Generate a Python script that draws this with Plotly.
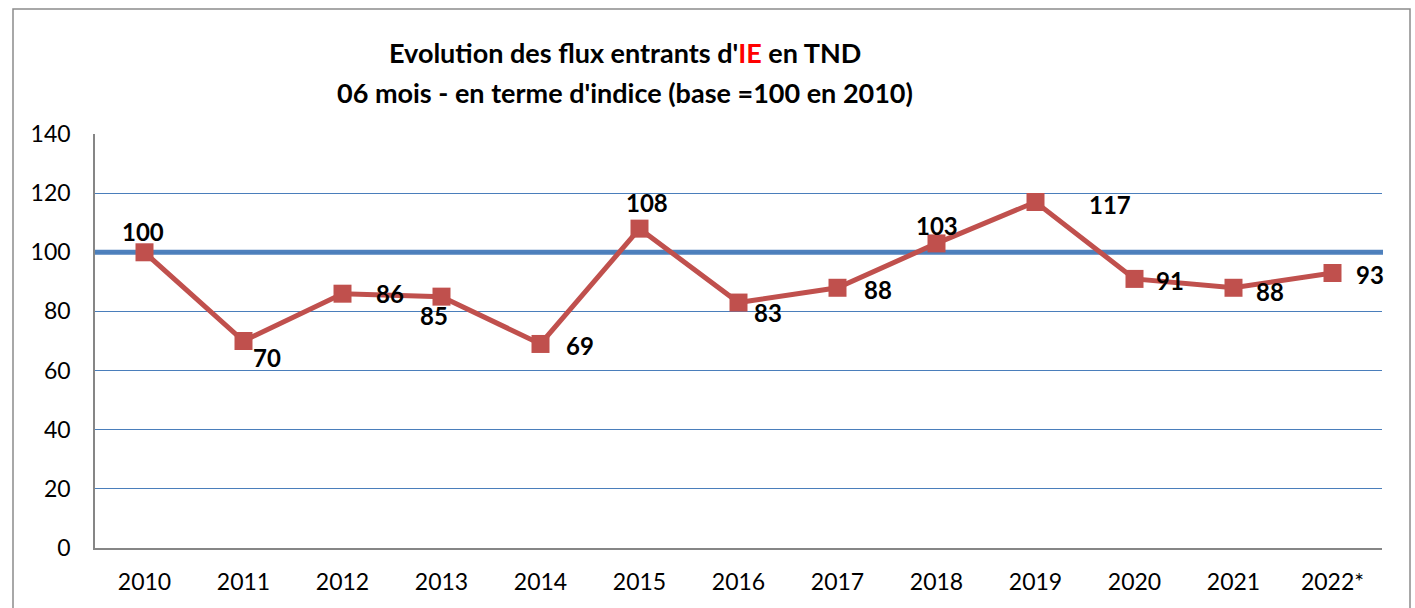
import plotly.graph_objects as go

years = ["2010", "2011", "2012", "2013", "2014", "2015", "2016", "2017", "2018", "2019", "2020", "2021", "2022*"]
values = [100, 70, 86, 85, 69, 108, 83, 88, 103, 117, 91, 88, 93]
base_value = 100
# label offsets in pixels (dx, dy) relative to the marker
label_dx = [-2, 23, 47, -8, 39, 7, 29, 40, 0, 74, 35, 36, 37]
label_dy = [-21, 16, 0, 19, 2, -26, 10, 2, -18, 2, 2, 4, 2]

W, H = 1415, 608
L, R, T, B = 95, 33, 134, 60
pw, ph = W - L - R, H - T - B

def px_x(x):
    return (x - L) / pw

def px_y(y):
    return (H - B - y) / ph

font = "Lato, 'Open Sans', sans-serif"

fig = go.Figure()
fig.add_trace(go.Scatter(
    x=years, y=values, mode="lines+markers",
    line=dict(color="#C0504D", width=5),
    marker=dict(symbol="square", size=18, color="#C0504D"),
    hoverinfo="skip", showlegend=False,
))

for i, (v, dx, dy) in enumerate(zip(values, label_dx, label_dy)):
    fig.add_annotation(x=i, y=v, text=f"<b>{v}</b>", showarrow=False,
                       xshift=dx, yshift=-dy,
                       font=dict(family=font, size=24, color="black"))

# base 100 reference line
fig.add_shape(type="line", xref="paper", yref="y", x0=px_x(93), x1=px_x(1383),
              y0=base_value, y1=base_value, line=dict(color="#4F81BD", width=5),
              layer="between")

# chart border
fig.add_shape(type="rect", xref="paper", yref="paper",
              x0=px_x(13), x1=px_x(1410), y0=px_y(620), y1=px_y(9),
              line=dict(color="#8C8C8C", width=1.5), layer="below")

fig.add_annotation(xref="paper", yref="paper", x=px_x(625), y=px_y(52),
                   text="<b>Evolution des flux entrants d'<span style='color:#FF0000'>IE</span> en TND</b>",
                   showarrow=False, xanchor="center", yanchor="middle",
                   font=dict(family=font, size=27, color="black"))
fig.add_annotation(xref="paper", yref="paper", x=px_x(625), y=px_y(92),
                   text="<b>06 mois - en terme d'indice (base =100 en 2010)</b>",
                   showarrow=False, xanchor="center", yanchor="middle",
                   font=dict(family=font, size=27, color="black"))

fig.update_layout(
    width=W, height=H,
    margin=dict(l=L, r=R, t=T, b=B),
    paper_bgcolor="white", plot_bgcolor="white",
    font=dict(family=font, size=22, color="black"),
)
fig.update_xaxes(showgrid=False, showline=True, linecolor="#868686", linewidth=1.5,
                 ticks="", ticklabelstandoff=13, tickfont=dict(size=23, color="black"),
                 range=[-0.5, len(years) - 0.5], fixedrange=True)
fig.update_yaxes(range=[0, 140], dtick=20, showgrid=True, gridcolor="#4A7EBB", gridwidth=1,
                 showline=True, linecolor="#868686", linewidth=1.5, zeroline=False,
                 ticks="", ticklabelstandoff=18, tickfont=dict(size=23, color="black"),
                 fixedrange=True)

fig.write_html("out.html", config={"displayModeBar": False},
               post_script="document.body.style.margin='0';")
